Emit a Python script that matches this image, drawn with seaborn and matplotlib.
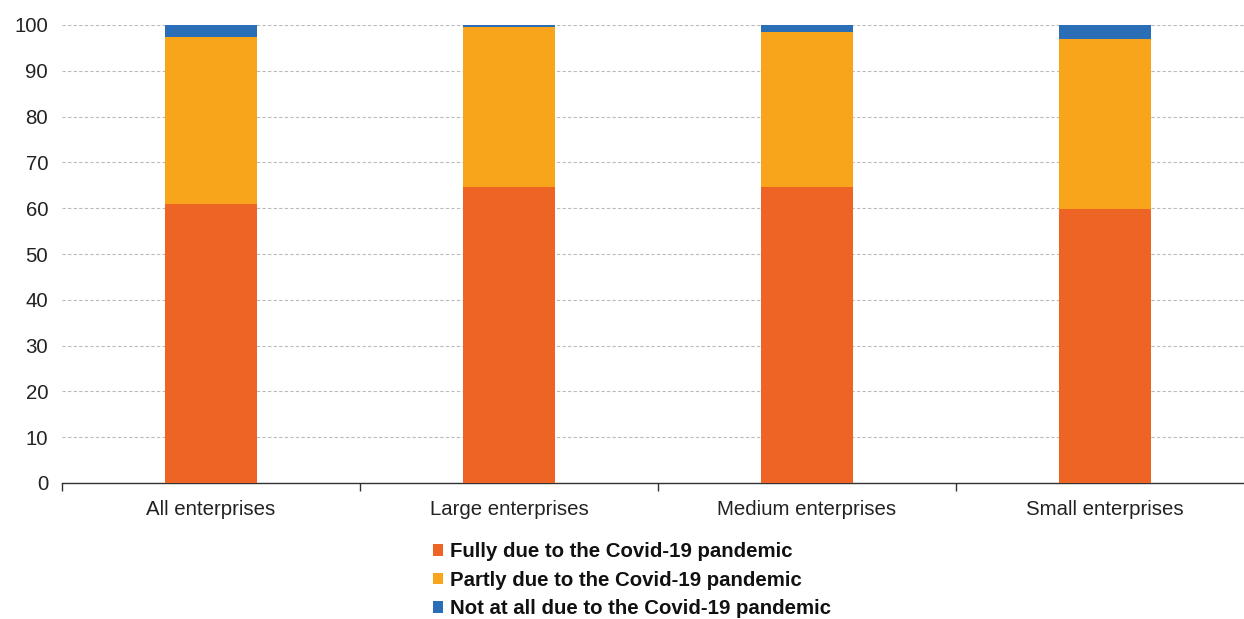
import matplotlib
matplotlib.use("Agg")
import matplotlib.pyplot as plt
import seaborn as sns
import pandas as pd
from matplotlib.patches import Patch

categories = ["All enterprises", "Large enterprises", "Medium enterprises", "Small enterprises"]
fully = [61.0, 64.6, 64.6, 59.8]
partly = [36.4, 34.9, 33.9, 37.1]
not_at_all = [2.6, 0.5, 1.5, 3.1]
series_names = ["Fully due to the Covid-19 pandemic",
                "Partly due to the Covid-19 pandemic",
                "Not at all due to the Covid-19 pandemic"]
colors = ["#EE6424", "#F8A51C", "#2A6EB7"]

sns.set_theme(style="white")
plt.rcParams["font.family"] = ["Liberation Sans", "DejaVu Sans"]

df = pd.DataFrame({"category": categories, "fully": fully,
                   "partly": partly, "not_at_all": not_at_all})
df["cum1"] = df["fully"]
df["cum2"] = df["fully"] + df["partly"]
df["cum3"] = df["cum2"] + df["not_at_all"]

fig = plt.figure(figsize=(12.44, 6.19), dpi=100)
ax = fig.add_axes([62 / 1244, 1 - 483 / 619, 1192 / 1244, 458 / 619])

# stacked bars drawn as cumulative totals, tallest first
for col, c in zip(["cum3", "cum2", "cum1"], colors[::-1]):
    sns.barplot(data=df, x="category", y=col, color=c, width=0.31,
                saturation=1, ax=ax, zorder=3, linewidth=0)

ax.set_xlim(-0.5, 3.5)
ax.set_ylim(0, 100)
ax.set_yticks(range(0, 101, 10))
ax.yaxis.grid(True, linestyle=(0, (3, 2)), color="#BBBBBB", linewidth=0.8, zorder=0)
ax.set_xlabel("")
ax.set_ylabel("")
for s in ["top", "right", "left"]:
    ax.spines[s].set_visible(False)
ax.spines["bottom"].set_color("#333333")
ax.spines["bottom"].set_linewidth(1.0)
ax.set_xticks([0, 1, 2, 3])
ax.set_xticklabels(categories)
ax.tick_params(axis="x", length=0, labelsize=14.7, pad=12, colors="#222222")
ax.tick_params(axis="y", length=0, labelsize=14.7, pad=10, colors="#222222")
# category separators on the x axis
ax.set_xticks([-0.5, 0.5, 1.5, 2.5, 3.5], minor=True)
ax.tick_params(axis="x", which="minor", bottom=True, length=6, width=1,
               color="#333333", direction="out")

handles = [Patch(facecolor=c, edgecolor="none") for c in colors]
leg = fig.legend(handles, series_names, loc="upper center",
                 bbox_to_anchor=(0.508, 1 - 528 / 619), frameon=False,
                 prop={"weight": "bold", "size": 14.7}, handlelength=0.5,
                 handleheight=0.5, handletextpad=0.3, labelspacing=0.47,
                 borderpad=0.2)
for t in leg.get_texts():
    t.set_color("#111111")

fig.savefig("out.png", dpi=100)
